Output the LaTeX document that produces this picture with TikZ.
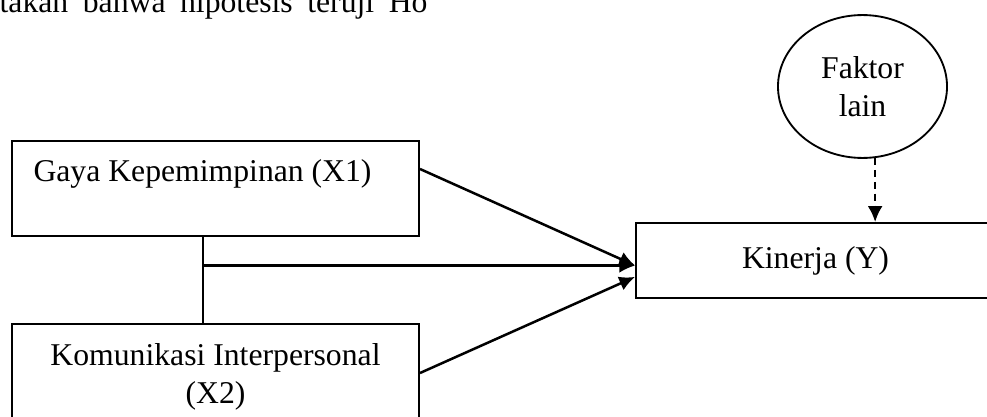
\documentclass[tikz,border=0pt]{standalone}
\usepackage{fontspec}
\setmainfont{Liberation Serif}
\usetikzlibrary{arrows.meta,positioning,calc,shapes.geometric}

\begin{document}
\begin{tikzpicture}[x=0.3786pt,y=-0.3786pt,
    font=\fontsize{12}{14.6}\selectfont,
    kotak/.style={draw,line width=0.7pt,inner sep=0pt},
    panah/.style={line width=0.95pt,-{Latex[length=6pt,width=5.6pt]}},
    putus/.style={dash pattern=on 2.6pt off 1.9pt}]
    \useasboundingbox (0,0) rectangle (987,416);
    \clip (0,0) rectangle (987,416);

    % Sisa kalimat di atas
    \node[anchor=base east,inner sep=0pt] (atas) at (428,13) {\spaceskip=5.5pt takan bahwa hipotesis teruji Ho};

    % Variabel
    \node[kotak,minimum width=154.1pt,minimum height=36pt] (x1) at (215.5,188.5) {};
    \node[anchor=base west,inner sep=0pt] (lx1) at (33,181) {Gaya Kepemimpinan (X1)};
    \node[kotak,minimum width=154.1pt,minimum height=40.1pt,align=center] (x2) at (215.5,377) {Komunikasi Interpersonal\\(X2)};
    \node[kotak,minimum width=135.9pt,minimum height=28.4pt] (kin) at (815.5,260.5) {Kinerja (Y)};
    \node[draw,ellipse,line width=0.7pt,inner sep=0pt,minimum width=64pt,minimum height=54.1pt,align=center] (lain) at (862.5,86.5) {Faktor\\lain};

    % Hubungan
    \coordinate (masuk) at ([yshift=-1.9pt]kin.west);
    \coordinate (jn) at ([xshift=-4.7pt]x1.south |- masuk);
    \draw[line width=0.7pt] ([xshift=-4.7pt]x1.south) -- ([xshift=-4.7pt]x2.north);
    \draw[panah] ([yshift=7.4pt]x1.east) -- (masuk);
    \draw[panah] (jn) -- (masuk);
    \draw[panah] ([yshift=1.5pt]x2.east) -- ([yshift=-6.2pt]kin.west);
    \draw[panah,putus] (lain.-80) -- (lain.-80 |- kin.north);
\end{tikzpicture}
\end{document}
